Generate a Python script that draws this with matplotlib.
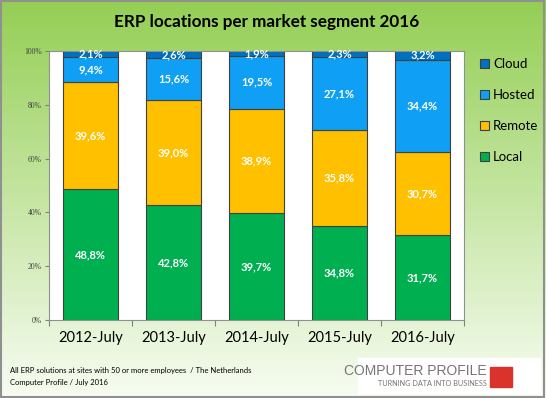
import numpy as np
import matplotlib.pyplot as plt
from matplotlib.patches import Rectangle

# data
years = ['2012-July', '2013-July', '2014-July', '2015-July', '2016-July']
local = [48.8, 42.8, 39.7, 34.8, 31.7]
remote = [39.6, 39.0, 38.9, 35.8, 30.7]
hosted = [9.4, 15.6, 19.5, 27.1, 34.4]
cloud = [2.1, 2.6, 1.9, 2.3, 3.2]
y_ticks = [0, 20, 40, 60, 80, 100]

series = [('Local', local, '#00B050'),
          ('Remote', remote, '#FFC000'),
          ('Hosted', hosted, '#0FA0F5'),
          ('Cloud', cloud, '#0070C0')]

fig = plt.figure(figsize=(5.46, 3.98), dpi=100)

# green gradient background
bg = fig.add_axes([0, 0, 1, 1], zorder=-10)
top = np.array([0.58, 0.81, 0.33])
bot = np.array([0.97, 0.99, 0.95])
t = np.linspace(0, 1, 200)[:, None]
grad = top * (1 - t) + bot * t
bg.imshow(grad[:, None, :].repeat(2, axis=1), aspect='auto', extent=[0, 1, 0, 1])
bg.add_patch(Rectangle((0.002, 0.003), 0.995, 0.994, fill=False, ec='#909090', lw=1.5,
                       transform=bg.transAxes))
bg.set_xlim(0, 1)
bg.set_ylim(0, 1)
bg.axis('off')

ax = fig.add_axes([49/546, 78/398, 415/546, 269/398])
ax.set_facecolor('white')
x = np.arange(len(years))
bottom = np.zeros(len(years))
handles = []
for name, vals, col in series:
    vals = np.array(vals)
    b = ax.bar(x, vals, 0.66, bottom=bottom, color=col, edgecolor='#404040', lw=0.8, label=name)
    handles.append(b)
    for xi, v, bt in zip(x, vals, bottom):
        ax.text(xi, bt + v / 2, f'{v:.1f}%'.replace('.', ','), ha='center', va='center',
                color='white', fontsize=8, fontweight='bold', family='Lato')
    bottom += vals

ax.set_xlim(-0.5, 4.5)
ax.set_ylim(0, 100)
ax.set_yticks(y_ticks)
ax.set_yticklabels([f'{v}%' for v in y_ticks], fontsize=5.5, family='Liberation Serif', color='#404040')
ax.set_xticks(np.arange(-0.5, 5, 1), minor=False)
ax.set_xticklabels([])
ax.set_xticks(x, minor=True)
ax.set_xticklabels(years, minor=True, fontsize=10.5, family='Lato')
ax.tick_params(axis='x', which='minor', length=0, pad=8)
ax.tick_params(axis='x', which='major', length=4, color='#808080')
ax.tick_params(axis='y', length=3, color='#808080', pad=2)
for s in ax.spines.values():
    s.set_color('#909090')

fig.legend(handles[::-1], [s[0] for s in series[::-1]], loc='upper left',
           bbox_to_anchor=(468/546, 1 - 46/398), frameon=False, handlelength=0.7,
           handleheight=0.7, labelspacing=1.45, handletextpad=0.3,
           prop={'family': 'Lato', 'size': 9.5})

fig.text(267/546, 1 - 22/398, 'ERP locations per market segment 2016', ha='center', va='center',
         fontsize=12.3, fontweight='bold', family='Lato')
fig.text(10/546, 1 - 371/398, 'All ERP solutions at sites with 50 or more employees  / The Netherlands',
         fontsize=5.5, family='Lato', va='center')
fig.text(10/546, 1 - 383/398, 'Computer Profile / July 2016', fontsize=5.5, family='Lato', va='center')

# logo
fig.patches.append(Rectangle((358/546, 1 - 393/398), 182/546, 35/398, transform=fig.transFigure,
                             color='white', zorder=1))
fig.patches.append(Rectangle((490/546, 1 - 387/398), 22/546, 20/398, transform=fig.transFigure,
                             color='#D9332B', zorder=2))
fig.text(487/546, 1 - 371/398, 'COMPUTER PROFILE', ha='right', va='center', fontsize=10,
         color='#7A7474', family='Liberation Sans', zorder=3)
fig.text(487/546, 1 - 383/398, 'TURNING DATA INTO BUSINESS', ha='right', va='center',
         fontsize=5.2, color='#7A7474', family='Lato', zorder=3)

fig.savefig('out.png', dpi=100)
